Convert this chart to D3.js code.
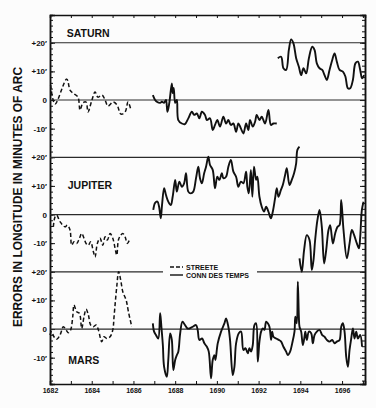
<!DOCTYPE html>
<html>
<head>
<meta charset="utf-8">
<script src="https://cdn.jsdelivr.net/npm/d3@7"></script>
<style>
  body { margin: 0; background: #fcfcfc; }
  svg { display: block; font-family: "Liberation Sans", Arial, sans-serif; font-weight: bold; }
</style>
</head>
<body>
<div id="chart"></div>
<script>
// planets from top to bottom and the shift (in minutes of arc) of each band
var planets = ["SATURN", "JUPITER", "MARS"];
var planetOffsets = [80, 40, 0];
var yTickValues = [20, 10, 0, -10];
var yTickLabels = ["+20′", "+10′", "0", "-10′"];
var yearLabels = [1682, 1684, 1686, 1688, 1690, 1692, 1694, 1696];
var legendLabels = ["STREETE", "CONN DES TEMPS"];
var yTitle = "ERRORS IN LONGITUDE IN MINUTES OF ARC";

// [year, error in minutes of arc]
var saturnStreete = [[1682.03, 5.2], [1682.24, -1.4], [1682.8, 7.3], [1682.96, 3.5], [1683.1, 2.4], [1683.34, 1.0],
  [1683.44, -3.5], [1683.58, -1.0], [1683.73, -0.7], [1683.82, -4.2], [1684.01, 0], [1684.16, 2.8], [1684.3, 1.0],
  [1684.5, 1.7], [1684.64, 0], [1684.78, -2.1], [1685.02, -0.7], [1685.21, -1.7], [1685.4, -4.9], [1685.6, -4.2],
  [1685.74, -0.7], [1685.88, -3.5]];

var saturnConn1 = [[1686.93, 1.7], [1687.04, 0], [1687.12, -0.6], [1687.28, -1.0], [1687.36, -0.6], [1687.47, -1.0],
  [1687.56, 0], [1687.63, -4.1], [1687.72, -1.0], [1687.84, 5.8], [1687.88, 2.4], [1687.93, 4.2], [1688.0, -1.0],
  [1688.08, 0], [1688.15, -7.0], [1688.32, -8.2], [1688.47, -8.4], [1688.63, -6.4], [1688.8, -4.1], [1688.91, -5.2],
  [1689.04, -4.7], [1689.16, -6.4], [1689.28, -4.1], [1689.43, -5.2], [1689.52, -7.0], [1689.67, -6.4], [1689.8, -10.5],
  [1689.91, -8.7], [1690.02, -7.0], [1690.15, -9.3], [1690.31, -5.8], [1690.44, -8.2], [1690.55, -7.0], [1690.67, -8.7],
  [1690.79, -8.2], [1690.92, -11.1], [1691.03, -8.2], [1691.15, -9.9], [1691.27, -11.7], [1691.4, -8.2], [1691.51, -10.5],
  [1691.59, -7.0], [1691.72, -9.3], [1691.83, -7.6], [1691.91, -5.2], [1692.04, -7.0], [1692.15, -5.8], [1692.31, -8.2],
  [1692.47, -3.5], [1692.59, -8.7], [1692.71, -8.2], [1692.87, -8.2]];

var saturnConn2 = [[1692.92, 14.6], [1693.08, 15.1], [1693.19, 11.1], [1693.32, 10.5], [1693.45, 17.5], [1693.56, 21.2],
  [1693.67, 19.8], [1693.8, 14.6], [1693.93, 11.6], [1694.04, 8.7], [1694.15, 11.1], [1694.28, 9.3], [1694.41, 14.6],
  [1694.57, 18.6], [1694.68, 17.5], [1694.79, 12.8], [1694.92, 11.1], [1695.05, 10.5], [1695.16, 8.7], [1695.27, 7.0],
  [1695.4, 10.5], [1695.53, 14.0], [1695.64, 16.3], [1695.75, 13.4], [1695.88, 10.5], [1696.04, 9.9], [1696.16, 8.2],
  [1696.28, 4.1], [1696.39, 4.1], [1696.52, 7.0], [1696.64, 12.8], [1696.76, 13.4], [1696.87, 10.5], [1696.96, 7.6],
  [1697.06, 8.7]];

var jupiterStreete = [[1682.16, -4.3], [1682.24, -0.8], [1682.32, -0.2], [1682.48, -2.5], [1682.72, -4.3], [1682.83, -3.7],
  [1682.96, -5.4], [1683.04, -10.7], [1683.15, -9.5], [1683.28, -10.1], [1683.41, -8.3], [1683.52, -6.6], [1683.63, -8.3],
  [1683.73, -10.1], [1683.84, -10.7], [1683.95, -9.5], [1684.08, -13.0], [1684.16, -14.8], [1684.27, -10.1], [1684.4, -8.3],
  [1684.53, -10.7], [1684.64, -7.8], [1684.75, -8.9], [1684.88, -6.6], [1685.01, -8.3], [1685.12, -11.8], [1685.2, -14.2],
  [1685.28, -8.9], [1685.39, -7.2], [1685.49, -6.6], [1685.6, -7.8], [1685.71, -10.1], [1685.84, -8.3]];

var jupiterConn1 = [[1686.95, 1.6], [1687.04, 4.1], [1687.15, 4.5], [1687.23, 2.7], [1687.31, -1.3], [1687.37, 3.3],
  [1687.47, 9.2], [1687.56, 6.8], [1687.67, 4.5], [1687.79, 3.3], [1687.88, 6.2], [1688.0, 12.1], [1688.08, 8.0],
  [1688.2, 11.5], [1688.32, 9.7], [1688.43, 10.9], [1688.52, 14.4], [1688.63, 8.0], [1688.75, 7.4], [1688.87, 8.0],
  [1689.0, 12.7], [1689.11, 16.7], [1689.19, 12.7], [1689.28, 10.9], [1689.39, 14.4], [1689.48, 16.7], [1689.59, 20.2],
  [1689.67, 17.3], [1689.8, 15.6], [1689.91, 9.2], [1690.02, 13.2], [1690.12, 12.1], [1690.24, 14.4], [1690.31, 12.7],
  [1690.44, 13.2], [1690.55, 16.7], [1690.67, 19.1], [1690.79, 15.0], [1690.92, 13.2], [1691.03, 9.7], [1691.15, 11.5],
  [1691.27, 10.9], [1691.4, 15.0], [1691.46, 9.7], [1691.53, 7.4], [1691.63, 15.6], [1691.7, 6.2], [1691.78, 16.7],
  [1691.88, 12.1], [1691.94, 13.2], [1692.04, 6.2], [1692.15, 2.7], [1692.26, 1.0], [1692.36, 2.7], [1692.47, 1.0],
  [1692.59, -1.3], [1692.68, 1.0], [1692.79, 5.7], [1692.87, 9.2], [1692.95, 6.2], [1693.07, 8.6], [1693.16, 10.3],
  [1693.27, 13.8], [1693.35, 16.2], [1693.48, 10.3], [1693.59, 12.1], [1693.7, 14.4], [1693.8, 17.9], [1693.86, 22.6],
  [1693.96, 23.7]];

var jupiterConn2 = [[1693.96, -15.3], [1694.07, -20.0], [1694.18, -12.4], [1694.31, -7.2], [1694.44, -8.9], [1694.55, -19.4],
  [1694.63, -16.0], [1694.71, -8.9], [1694.82, -1.9], [1694.92, 1.6], [1695.03, -4.3], [1695.14, -17.1], [1695.24, -12.4],
  [1695.35, -5.4], [1695.43, -3.7], [1695.56, -10.1], [1695.67, -6.6], [1695.78, -4.3], [1695.88, -3.7], [1695.96, 5.1],
  [1696.07, -5.4], [1696.23, -15.3], [1696.36, -10.1], [1696.47, -5.4], [1696.58, -7.2], [1696.71, -10.1], [1696.81, -11.8],
  [1696.87, -7.8], [1696.95, 1.6], [1697.03, 4.5]];

var marsStreete = [[1682.0, -2.1], [1682.08, -0.9], [1682.19, -2.7], [1682.32, -3.6], [1682.48, -2.1], [1682.64, 0.8],
  [1682.77, -0.3], [1682.88, -1.3], [1682.99, -0.3], [1683.09, 4.3], [1683.15, 8.4], [1683.28, 6.0], [1683.41, 5.5],
  [1683.52, 0.2], [1683.63, 4.3], [1683.73, 6.9], [1683.84, 4.9], [1683.95, 1.4], [1684.08, 0.8], [1684.21, 1.4],
  [1684.32, -0.3], [1684.48, -4.4], [1684.59, -2.7], [1684.72, -3.3], [1684.88, -2.7], [1685.01, -0.3], [1685.07, 4.3],
  [1685.2, 14.8], [1685.29, 20.0], [1685.39, 17.1], [1685.49, 13.0], [1685.65, 10.1], [1685.76, 6.0], [1685.92, 0.8]];

var marsConn = [[1686.93, 2.0], [1686.99, -0.9], [1687.08, -2.1], [1687.19, -3.3], [1687.28, 5.5], [1687.34, 0.8],
  [1687.41, -5.6], [1687.47, -13.2], [1687.6, -16.7], [1687.67, -10.8], [1687.76, -1.5], [1687.84, -3.8], [1687.91, -14.3],
  [1688.0, -10.8], [1688.08, -9.1], [1688.15, -7.9], [1688.24, -1.5], [1688.35, 2.6], [1688.47, 1.4], [1688.59, 0.2],
  [1688.68, 0.2], [1688.84, 0.8], [1689.0, 1.4], [1689.08, -0.3], [1689.16, -3.8], [1689.29, -3.3], [1689.4, -5.0],
  [1689.52, -6.2], [1689.61, -7.9], [1689.72, -17.2], [1689.8, -10.8], [1689.88, -9.1], [1689.93, -10.8], [1690.04, -5.0],
  [1690.2, -0.9], [1690.36, 2.0], [1690.44, 3.7], [1690.55, 0.8], [1690.63, -3.8], [1690.76, -16.1], [1690.84, -13.2],
  [1690.92, -5.0], [1691.05, -1.5], [1691.16, -0.9], [1691.27, -7.3], [1691.37, -6.7], [1691.48, -8.5], [1691.56, -6.7],
  [1691.64, -7.9], [1691.72, -5.6], [1691.8, 1.4], [1691.88, 2.0], [1691.96, -11.4], [1692.04, -4.4], [1692.12, -0.9],
  [1692.2, 0.2], [1692.28, -0.3], [1692.36, 2.6], [1692.44, 2.0], [1692.52, 0.8], [1692.6, -3.8], [1692.65, -0.9],
  [1692.71, -2.7], [1692.84, -3.3], [1692.97, -3.8], [1693.08, -4.4], [1693.19, -6.2], [1693.32, -7.9], [1693.4, -9.1],
  [1693.51, -7.9], [1693.61, -5.0], [1693.72, -0.9], [1693.76, 4.3], [1693.83, 2.0], [1693.88, 16.5], [1693.93, 4.3],
  [1693.96, 0.8], [1694.04, -0.9], [1694.12, -5.6], [1694.2, -2.7], [1694.24, -0.9], [1694.31, -3.8], [1694.41, -0.9],
  [1694.52, -1.5], [1694.6, -5.0], [1694.68, -2.1], [1694.79, -0.9], [1694.92, -0.3], [1695.05, -2.1], [1695.16, -2.7],
  [1695.27, -3.8], [1695.4, -4.4], [1695.53, -3.8], [1695.64, -5.0], [1695.75, -4.4], [1695.88, -3.8], [1695.96, 0.8],
  [1696.04, 2.0], [1696.12, -0.9], [1696.2, -9.7], [1696.28, -13.2], [1696.36, -7.3], [1696.44, -3.3], [1696.52, 0.2],
  [1696.6, -3.3], [1696.68, -0.9], [1696.76, -3.3], [1696.87, -2.1], [1696.96, -6.2]];

// set the dimensions and margins of the graph
var margin = { top: 15, right: 11, bottom: 24, left: 50 },
    width = 376 - margin.left - margin.right,
    height = 408 - margin.top - margin.bottom;

var svg = d3.select("#chart")
    .append("svg")
    .attr("width", width + margin.left + margin.right)
    .attr("height", height + margin.top + margin.bottom)
    .append("g")
    .attr("transform", "translate(" + margin.left + "," + margin.top + ")");

var ink = "#111";

var x = d3.scaleLinear().domain([1682, 1697.1]).range([0, width]);
// one vertical scale, each planet band is shifted by its offset
var y = d3.scaleLinear().domain([-19.2, 109.7]).range([height, 0]);

// left axis: labelled major ticks + minor ticks every 2'
var majorVals = [], majorText = [];
planetOffsets.forEach(function (o) {
    yTickValues.forEach(function (v, i) { majorVals.push(o + v); majorText.push(yTickLabels[i]); });
});
var minorVals = d3.range(-18, 110, 2);

var left = svg.append("g")
    .call(d3.axisLeft(y).tickValues(majorVals).tickSize(-5).tickPadding(3)
        .tickFormat(function (d, i) { return majorText[i]; }));
left.selectAll("text").style("font-size", "8px").attr("fill", ink);
left.append("g").call(d3.axisLeft(y).tickValues(minorVals).tickSize(-3).tickFormat(""));

var right = svg.append("g")
    .attr("transform", "translate(" + width + ",0)")
    .call(d3.axisRight(y).tickValues(majorVals).tickSize(-5).tickFormat(""));
right.append("g").call(d3.axisRight(y).tickValues(minorVals).tickSize(-3).tickFormat(""));

// top and bottom year ticks
svg.append("g").call(d3.axisTop(x).tickValues(d3.range(1682, 1698)).tickSize(-3).tickFormat(""));
svg.append("g")
    .attr("transform", "translate(0," + height + ")")
    .call(d3.axisBottom(x).tickValues(d3.range(1682, 1698)).tickSize(-3).tickFormat(""));
svg.append("g")
    .attr("transform", "translate(0," + height + ")")
    .call(d3.axisBottom(x).tickValues(yearLabels).tickSize(0).tickPadding(4).tickFormat(d3.format("d")))
    .call(function (g) { g.select(".domain").remove(); })
    .selectAll("text").style("font-size", "7px").attr("fill", ink);

svg.selectAll(".domain").attr("stroke", ink).attr("stroke-width", 1.5);
svg.selectAll(".tick line").attr("stroke", ink).attr("stroke-width", 1);

// legend goes in a gap of the mars +20 line
var legX = 120, legY = 252;
var gapL = 113, gapR = 207;

// reference lines at 0 and +20 for each band
planetOffsets.forEach(function (o, i) {
    [o, o + 20].forEach(function (v) {
        var segs = (i == 2 && v == o + 20) ? [[0, gapL], [gapR, width]] : [[0, width]];
        segs.forEach(function (s) {
            svg.append("line")
                .attr("x1", s[0]).attr("x2", s[1])
                .attr("y1", y(v)).attr("y2", y(v))
                .attr("stroke", "#2a2a2a").attr("stroke-width", 1.2);
        });
    });
});

// the curves
var series = [
    { data: saturnStreete, off: planetOffsets[0], dashed: true },
    { data: saturnConn1, off: planetOffsets[0], dashed: false },
    { data: saturnConn2, off: planetOffsets[0], dashed: false },
    { data: jupiterStreete, off: planetOffsets[1], dashed: true },
    { data: jupiterConn1, off: planetOffsets[1], dashed: false },
    { data: jupiterConn2, off: planetOffsets[1], dashed: false },
    { data: marsStreete, off: planetOffsets[2], dashed: true },
    { data: marsConn, off: planetOffsets[2], dashed: false }
];

svg.selectAll("curves")
    .data(series)
    .enter()
    .append("path")
    .attr("d", function (s) {
        return d3.line()
            .x(function (d) { return x(d[0]); })
            .y(function (d) { return y(d[1] + s.off); })
            .curve(d3.curveCatmullRom.alpha(0.5))(s.data);
    })
    .attr("fill", "none")
    .attr("stroke", ink)
    .attr("stroke-width", function (s) { return s.dashed ? 1.5 : 1.9; })
    .attr("stroke-dasharray", function (s) { return s.dashed ? "4,2.5" : null; })
    .attr("stroke-linejoin", "round");

// planet names
var labelX = [1682.8, 1682.85, 1682.88];
var labelY = [102.1, 48.8, -12.2];
svg.selectAll("planetNames")
    .data(planets)
    .enter()
    .append("text")
    .attr("x", function (d, i) { return x(labelX[i]); })
    .attr("y", function (d, i) { return y(labelY[i]); })
    .style("font-size", "10.5px")
    .attr("fill", ink)
    .text(function (d) { return d; });

// legend
legendLabels.forEach(function (t, i) {
    svg.append("line")
        .attr("x1", legX).attr("x2", legX + 13)
        .attr("y1", legY + i * 8).attr("y2", legY + i * 8)
        .attr("stroke", ink).attr("stroke-width", 1.4)
        .attr("stroke-dasharray", i == 0 ? "4,2" : null);
    svg.append("text")
        .attr("x", legX + 16).attr("y", legY + i * 8 + 2.5)
        .style("font-size", "7px")
        .attr("fill", ink)
        .text(t);
});

// y axis title
svg.append("text")
    .attr("transform", "translate(" + (-28) + "," + 182 + ") rotate(-90)")
    .attr("text-anchor", "middle")
    .attr("textLength", 260)
    .attr("lengthAdjust", "spacingAndGlyphs")
    .style("font-size", "12.5px")
    .attr("fill", ink)
    .text(yTitle);
</script>
</body>
</html>
